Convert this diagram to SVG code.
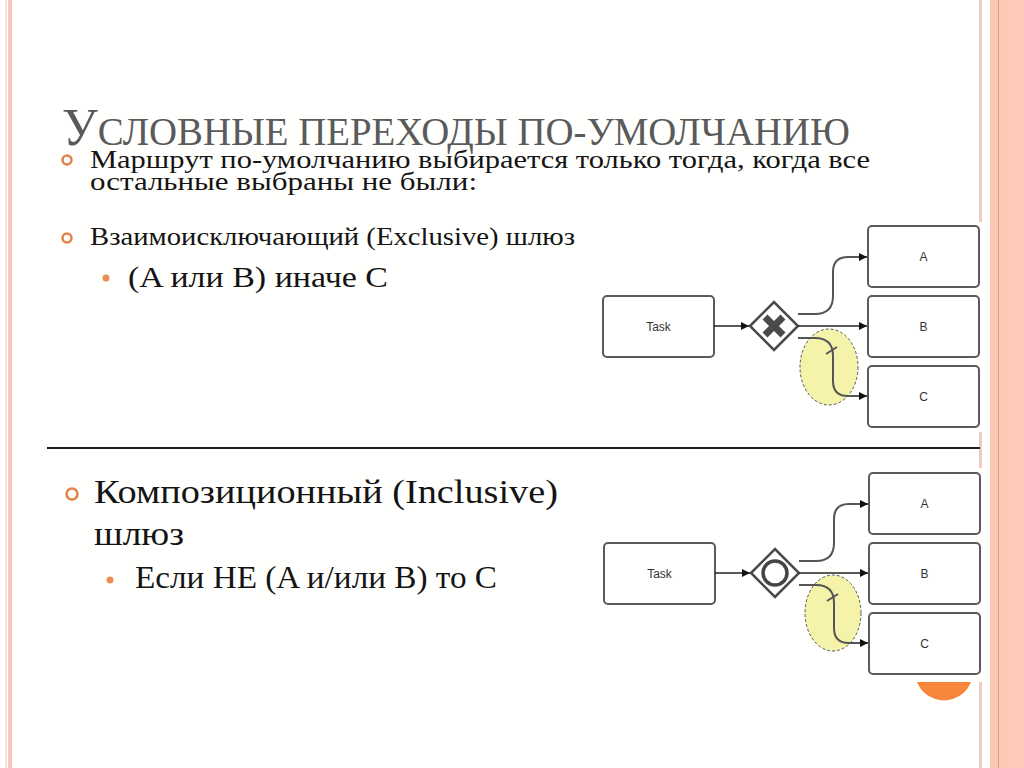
<svg xmlns="http://www.w3.org/2000/svg" width="1024" height="768" viewBox="0 0 1024 768">
<defs>
<marker id="arr" viewBox="0 0 10 10" refX="10" refY="5" markerWidth="8" markerHeight="8" markerUnits="userSpaceOnUse" orient="auto">
<path d="M0,0 L10,5 L0,10 Z" fill="#111"/>
</marker>
<style>
.body{font-family:"Liberation Serif","Times New Roman",serif;fill:#141414}
.title{font-family:"Liberation Serif","Times New Roman",serif;fill:#5a5a5a}
.box{fill:#ffffff;stroke:#5a5a5a;stroke-width:2}
.lbl{font-family:"Liberation Sans",Arial,sans-serif;font-size:12px;fill:#333;text-anchor:middle;dominant-baseline:central}
.gw{fill:#ffffff;stroke:#4a4a4a;stroke-width:2.5}
.flow{fill:none;stroke:#222;stroke-width:1.5}
.cflow{fill:none;stroke:#555;stroke-width:2}
.hl{fill:#f3f19a;fill-opacity:0.85;stroke:#555;stroke-width:1;stroke-dasharray:3,2}
.ring{fill:none;stroke:#e0824a;stroke-width:2.5}
.dot{fill:#ee8c55}
</style>
</defs>
<rect x="0" y="0" width="1024" height="768" fill="#fffffd"/>
<!-- left frame -->
<rect x="5" y="0" width="2" height="768" fill="#f2e4da"/>
<rect x="8" y="0" width="4" height="768" fill="#f8c5bc"/>
<!-- right frame -->
<rect x="979" y="0" width="3" height="222" fill="#f1cbbf"/>
<rect x="979" y="432" width="3" height="36" fill="#f1cbbf"/>
<rect x="979" y="682" width="3" height="86" fill="#f1cbbf"/>
<rect x="990" y="0" width="34" height="768" fill="#fcc8b4"/>
<rect x="1008" y="0" width="16" height="768" fill="#fdcbb8"/>
<line x1="998.5" y1="0" x2="998.5" y2="768" stroke="#e19a7b" stroke-width="1"/>
<!-- slide number circle -->
<path d="M917,682 A29,29 0 0 0 971,682 Z" fill="#f6873a"/>

<!-- title -->
<text class="title" x="62" y="145" textLength="788" lengthAdjust="spacingAndGlyphs"><tspan font-size="52">У</tspan><tspan font-size="40">СЛОВНЫЕ ПЕРЕХОДЫ ПО-УМОЛЧАНИЮ</tspan></text>

<!-- bullets top -->
<circle class="ring" cx="67" cy="160" r="4.5"/>
<text class="body" x="90" y="168" font-size="26" textLength="780" lengthAdjust="spacingAndGlyphs">Маршрут по-умолчанию выбирается только тогда, когда все</text>
<text class="body" x="90" y="190" font-size="26" textLength="387" lengthAdjust="spacingAndGlyphs">остальные выбраны не были:</text>
<circle class="ring" cx="67" cy="238" r="4.5"/>
<text class="body" x="90" y="245" font-size="26" textLength="485" lengthAdjust="spacingAndGlyphs">Взаимоисключающий (Exclusive) шлюз</text>
<circle class="dot" cx="106" cy="278" r="3.5"/>
<text class="body" x="128" y="287" font-size="29" textLength="260" lengthAdjust="spacingAndGlyphs">(A или B) иначе C</text>

<!-- divider -->
<line x1="47" y1="448" x2="980" y2="448" stroke="#1e1e1e" stroke-width="2"/>

<!-- bullets bottom -->
<circle class="ring" cx="72" cy="494" r="5.5" stroke-width="3"/>
<text class="body" x="94" y="503" font-size="33" textLength="464" lengthAdjust="spacingAndGlyphs">Композиционный (Inclusive)</text>
<text class="body" x="94" y="545" font-size="33" textLength="90" lengthAdjust="spacingAndGlyphs">шлюз</text>
<circle class="dot" cx="110" cy="580" r="3.5"/>
<text class="body" x="135" y="588" font-size="31" textLength="362" lengthAdjust="spacingAndGlyphs">Если НЕ (A и/или B) то C</text>

<!-- highlights -->
<g id="hl1"><ellipse class="hl" cx="829" cy="367" rx="29" ry="38"/></g>
<g id="hl2"><ellipse class="hl" cx="833" cy="613" rx="28" ry="38"/></g>

<!-- nodes diagram 1 -->
<g id="task1"><rect class="box" x="603" y="296" width="111" height="61" rx="4"/><text class="lbl" x="658.5" y="326.5">Task</text></g>
<g id="gw1"><polygon class="gw" points="750,326 774,302 798,326 774,350"/>
<path d="M765,317 L783,335 M783,317 L765,335" stroke="#4a4a4a" stroke-width="7" stroke-linecap="butt"/></g>
<g id="a1"><rect class="box" x="868" y="226" width="111" height="61" rx="4"/><text class="lbl" x="923.5" y="256.5">A</text></g>
<g id="b1"><rect class="box" x="868" y="296" width="111" height="61" rx="4"/><text class="lbl" x="923.5" y="326.5">B</text></g>
<g id="c1"><rect class="box" x="868" y="366" width="111" height="61" rx="4"/><text class="lbl" x="923.5" y="396.5">C</text></g>

<!-- nodes diagram 2 -->
<g id="task2"><rect class="box" x="604" y="543" width="111" height="61" rx="4"/><text class="lbl" x="659.5" y="573.5">Task</text></g>
<g id="gw2"><polygon class="gw" points="751,573 775,549 799,573 775,597"/>
<circle cx="775" cy="573" r="12" fill="none" stroke="#444" stroke-width="3.5"/></g>
<g id="a2"><rect class="box" x="869" y="473" width="111" height="61" rx="4"/><text class="lbl" x="924.5" y="503.5">A</text></g>
<g id="b2"><rect class="box" x="869" y="543" width="111" height="61" rx="4"/><text class="lbl" x="924.5" y="573.5">B</text></g>
<g id="c2"><rect class="box" x="869" y="613" width="111" height="61" rx="4"/><text class="lbl" x="924.5" y="643.5">C</text></g>

<!-- connectors -->
<g id="connectors">
<path class="flow" d="M714,326 L749,326" marker-end="url(#arr)"/>
<path class="cflow" d="M798,314 L815,314 Q833,314 833,296 L833,272 Q833,257 848,257 L867,257" marker-end="url(#arr)"/>
<path class="flow" d="M798,326 L867,326" marker-end="url(#arr)"/>
<path class="cflow" d="M798,338 L815,338 Q833,338 833,356 L833,381 Q833,396 848,396 L867,396" marker-end="url(#arr)"/>
<path d="M826,354 L837,347" stroke="#555" stroke-width="2"/>

<path class="flow" d="M715,573 L750,573" marker-end="url(#arr)"/>
<path class="cflow" d="M799,561 L816,561 Q834,561 834,543 L834,519 Q834,504 849,504 L868,504" marker-end="url(#arr)"/>
<path class="flow" d="M799,573 L868,573" marker-end="url(#arr)"/>
<path class="cflow" d="M799,585 L816,585 Q834,585 834,603 L834,628 Q834,643 849,643 L868,643" marker-end="url(#arr)"/>
<path d="M827,601 L838,594" stroke="#555" stroke-width="2"/>
</g>
</svg>
